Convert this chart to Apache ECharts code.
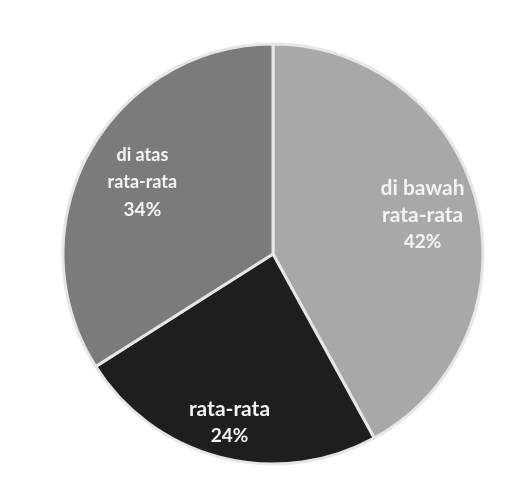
<!DOCTYPE html>
<html>
<head>
<meta charset="utf-8">
<script src="https://cdn.jsdelivr.net/npm/echarts@6/dist/echarts.min.js"></script>
<style>
  html, body { margin: 0; padding: 0; background: #ffffff; }
  #chart { width: 532px; height: 492px; }
</style>
</head>
<body>
<div id="chart"></div>
<script>
// Distribution of students by category (percent)
const categories = ['di bawah\nrata-rata', 'rata-rata', 'di atas\nrata-rata'];
const percents = [42, 24, 34];
const sliceColors = ['#a8a8a8', '#201d1d', '#7b7b7b'];
// per-slice label styling: name font size and radial push of the label
const nameSizes = [21, 21, 18];
const labelPush = [1.43, 1.62, 1.38];

const center = [273, 254];
const chart = echarts.init(document.getElementById('chart'), null, { renderer: 'canvas' });

const textBase = {
  color: '#f4f4f4',
  fontFamily: 'Lato, sans-serif',
  fontWeight: 700,
  lineHeight: 27,
  align: 'center'
};

chart.setOption({
  backgroundColor: '#ffffff',
  animation: false,
  series: [{
    type: 'pie',
    center: center,
    radius: 210,
    startAngle: 90,
    clockwise: true,
    silent: true,
    data: categories.map((name, i) => ({
      name: name,
      value: percents[i],
      itemStyle: { color: sliceColors[i] },
      label: {
        rich: {
          n: Object.assign({}, textBase, { fontSize: nameSizes[i] }),
          p: Object.assign({}, textBase, { fontSize: 19 })
        }
      }
    })),
    itemStyle: { borderColor: '#e6e6e6', borderWidth: 3 },
    label: {
      show: true,
      position: 'inside',
      formatter: p => p.name.split('\n').map(s => '{n|' + s + '}').join('\n') + '\n{p|' + p.value + '%}',
      color: '#f4f4f4',
      align: 'center'
    },
    labelLine: { show: false },
    labelLayout: function (p) {
      const k = labelPush[p.dataIndex];
      const lx = p.labelRect.x + p.labelRect.width / 2;
      const ly = p.labelRect.y + p.labelRect.height / 2;
      return {
        x: center[0] + k * (lx - center[0]),
        y: center[1] + k * (ly - center[1])
      };
    }
  }]
});
</script>
</body>
</html>
